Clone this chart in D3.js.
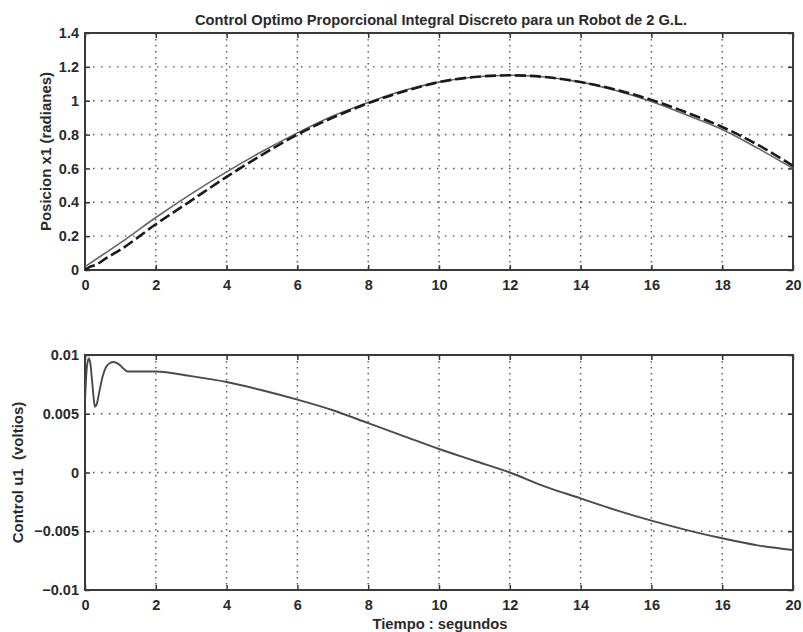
<!DOCTYPE html>
<html>
<head>
<meta charset="utf-8">
<script src="https://cdn.jsdelivr.net/npm/d3@7"></script>
<style>
  body { margin: 0; background: #fff; }
  svg { display: block; }
  text { font-family: "Liberation Sans", Arial, sans-serif; font-weight: bold; fill: #2a2a2a; white-space: pre; }
</style>
</head>
<body>
<svg id="chart" width="803" height="632"></svg>
<script>
// ---- Data ----
const titleText = "Control Optimo Proporcional Integral Discreto para un Robot de 2 G.L.";
const xLabelText = "Tiempo : segundos";
const topYLabel = "Posicion x1 (radianes)";
const botYLabel = "Control u1  (voltios)";

const xTicks = [0, 2, 4, 6, 8, 10, 12, 14, 16, 18, 20];
const topXTickLabels = ["0", "2", "4", "6", "8", "10", "12", "14", "16", "18", "20"];
const botXTickLabels = ["0", "2", "4", "6", "8", "10", "12", "14", "16", "16", "20"];
const topYTicks = [0, 0.2, 0.4, 0.6, 0.8, 1, 1.2, 1.4];
const topYTickLabels = ["0", "0.2", "0.4", "0.6", "0.8", "1", "1.2", "1.4"];
const botYTicks = [-0.01, -0.005, 0, 0.005, 0.01];
const botYTickLabels = ["\u22120.01", "\u22120.005", "0", "0.005", "0.01"];

// Position x1: solid (reference) and dashed (response)
const tSolid = [0, 0.5, 1, 2, 3, 4, 5, 6, 7, 8, 9, 10, 11, 12, 13, 14, 15, 16, 17, 18, 19, 20];
const x1Solid = [0.02, 0.09, 0.16, 0.31, 0.45, 0.58, 0.70, 0.81, 0.91, 0.99, 1.06, 1.11, 1.14, 1.15, 1.14, 1.11, 1.06, 0.995, 0.915, 0.83, 0.72, 0.60];
const tDashed = [0, 0.15, 0.3, 0.6, 1, 2, 3, 4, 5, 6, 7, 8, 9, 10, 11, 12, 13, 14, 15, 16, 17, 18, 19, 20];
const x1Dashed = [0, 0.02, 0.03, 0.07, 0.12, 0.27, 0.41, 0.55, 0.68, 0.80, 0.90, 0.985, 1.055, 1.11, 1.14, 1.15, 1.14, 1.11, 1.065, 1.005, 0.93, 0.845, 0.74, 0.615];

// Control u1
const tU = [0, 0.04, 0.08, 0.11, 0.15, 0.2, 0.25, 0.28, 0.33, 0.4, 0.5, 0.6, 0.7, 0.8, 0.9, 1.0, 1.1, 1.2, 1.4, 1.7, 2, 3, 4, 5, 6, 7, 8, 9, 10, 11, 12, 13, 14, 15, 16, 17, 18, 19, 20];
const u1 = [0.006, 0.0085, 0.0095, 0.0097, 0.0093, 0.0078, 0.0062, 0.0056, 0.0058, 0.0068, 0.0082, 0.0090, 0.0093, 0.0094, 0.0093, 0.0091, 0.0088, 0.0086, 0.0086, 0.0086, 0.0086, 0.0082, 0.0077, 0.0070, 0.0062, 0.0053, 0.0042, 0.0031, 0.0020, 0.0010, 0.0000, -0.0012, -0.0022, -0.0032, -0.0041, -0.0049, -0.0056, -0.0062, -0.0066];

// ---- Layout ----
const svg = d3.select("#chart");
const left = 85, right = 793;
const topPanel = { top: 33, bottom: 270 };
const botPanel = { top: 355, bottom: 590 };

const x = d3.scaleLinear().domain([0, 20]).range([left, right]);
const yTop = d3.scaleLinear().domain([0, 1.4]).range([topPanel.bottom, topPanel.top]);
const yBot = d3.scaleLinear().domain([-0.01, 0.01]).range([botPanel.bottom, botPanel.top]);

function panel(y, yTicks, yLabels, xLabels, clipId) {
  const g = svg.append("g");
  const y0 = y.range()[0], y1 = y.range()[1];
  // grid
  g.append("g").selectAll("line").data(xTicks.slice(1, -1)).join("line")
    .attr("x1", d => x(d)).attr("x2", d => x(d)).attr("y1", y1).attr("y2", y0)
    .attr("stroke", "#555").attr("stroke-width", 1.4).attr("stroke-dasharray", "1.5,4.5");
  g.append("g").selectAll("line").data(yTicks.slice(1, -1)).join("line")
    .attr("x1", left).attr("x2", right).attr("y1", d => y(d)).attr("y2", d => y(d))
    .attr("stroke", "#555").attr("stroke-width", 1.4).attr("stroke-dasharray", "1.5,6.5");
  // axes with inward ticks
  const ax = d3.axisBottom(x).tickValues(xTicks).tickFormat((d, i) => xLabels[i]).tickSizeInner(-5).tickSizeOuter(0).tickPadding(10);
  const gx = g.append("g").attr("transform", `translate(0,${y0})`).call(ax);
  const ay = d3.axisLeft(y).tickValues(yTicks).tickFormat((d, i) => yLabels[i]).tickSizeInner(-5).tickSizeOuter(0).tickPadding(6);
  const gy = g.append("g").attr("transform", `translate(${left},0)`).call(ay);
  const axTop = d3.axisTop(x).tickValues(xTicks).tickFormat("").tickSizeInner(-5).tickSizeOuter(0);
  const gxt = g.append("g").attr("transform", `translate(0,${y1})`).call(axTop);
  const ayR = d3.axisRight(y).tickValues(yTicks).tickFormat("").tickSizeInner(-5).tickSizeOuter(0);
  const gyr = g.append("g").attr("transform", `translate(${right},0)`).call(ayR);
  [gx, gy, gxt, gyr].forEach(a => {
    a.select(".domain").remove();
    a.selectAll(".tick line").attr("stroke", "#333").attr("stroke-width", 1.5);
    a.selectAll("text").attr("font-size", 14.5).attr("font-family", "Liberation Sans, Arial, sans-serif").attr("font-weight", "bold").attr("fill", "#2a2a2a");
  });
  // frame
  g.append("rect").attr("x", left).attr("y", y1).attr("width", right - left).attr("height", y0 - y1)
    .attr("fill", "none").attr("stroke", "#3a3a3a").attr("stroke-width", 2);
  svg.append("clipPath").attr("id", clipId).append("rect")
    .attr("x", left).attr("y", y1 - 1).attr("width", right - left).attr("height", y0 - y1 + 2);
  return g;
}

const gTop = panel(yTop, topYTicks, topYTickLabels, topXTickLabels, "clipTop");
const gBot = panel(yBot, botYTicks, botYTickLabels, botXTickLabels, "clipBot");

const lineTop = d3.line().x(d => x(d[0])).y(d => yTop(d[1])).curve(d3.curveMonotoneX);
gTop.append("path").datum(tSolid.map((t, i) => [t, x1Solid[i]]))
  .attr("d", lineTop).attr("fill", "none").attr("stroke", "#666").attr("stroke-width", 1.6)
  .attr("clip-path", "url(#clipTop)");
gTop.append("path").datum(tDashed.map((t, i) => [t, x1Dashed[i]]))
  .attr("d", lineTop).attr("fill", "none").attr("stroke", "#1a1a1a").attr("stroke-width", 2.6)
  .attr("stroke-dasharray", "11,4").attr("clip-path", "url(#clipTop)");

const lineBot = d3.line().x(d => x(d[0])).y(d => yBot(d[1])).curve(d3.curveMonotoneX);
gBot.append("path").datum(tU.map((t, i) => [t, u1[i]]))
  .attr("d", lineBot).attr("fill", "none").attr("stroke", "#4a4a4a").attr("stroke-width", 1.9)
  .attr("clip-path", "url(#clipBot)");

// Titles / labels
svg.append("text").attr("x", (left + right) / 2 + 2).attr("y", 25).attr("text-anchor", "middle")
  .attr("font-size", 14.5).attr("textLength", 492).attr("lengthAdjust", "spacingAndGlyphs").text(titleText);
svg.append("text").attr("x", (left + right) / 2 + 1).attr("y", 629).attr("text-anchor", "middle")
  .attr("font-size", 14.5).attr("textLength", 135).attr("lengthAdjust", "spacingAndGlyphs").text(xLabelText);
svg.append("text").attr("transform", `translate(51,${(topPanel.top + topPanel.bottom) / 2}) rotate(-90)`)
  .attr("text-anchor", "middle").attr("font-size", 15).text(topYLabel);
svg.append("text").attr("transform", `translate(23,${(botPanel.top + botPanel.bottom) / 2}) rotate(-90)`)
  .attr("text-anchor", "middle").attr("font-size", 15).text(botYLabel);
</script>
</body>
</html>
